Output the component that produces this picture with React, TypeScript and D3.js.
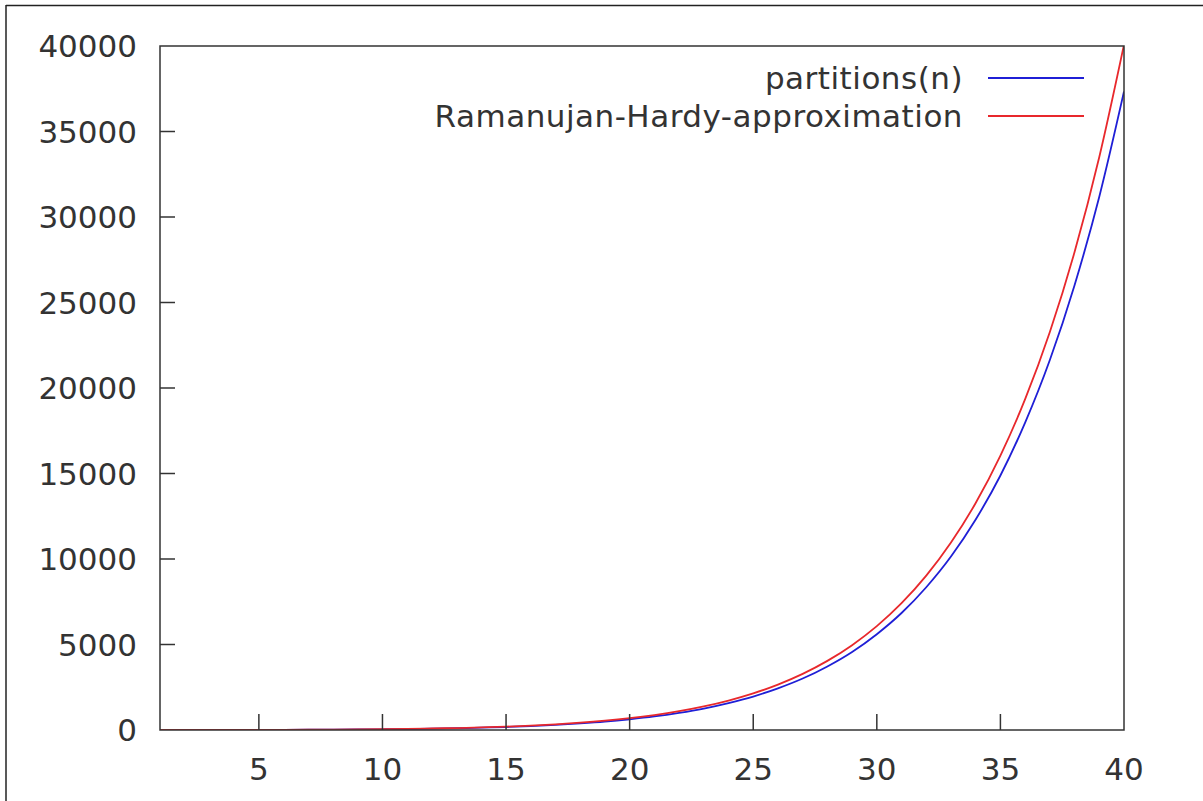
import React from "react";
import * as d3 from "d3";

const nValues: number[] = Array.from({ length: 40 }, (_, i) => i + 1);
const partitions: number[] = [
  1, 2, 3, 5, 7, 11, 15, 22, 30, 42, 56, 77, 101, 135, 176, 231, 297, 385, 490, 627,
  792, 1002, 1255, 1575, 1958, 2436, 3010, 3718, 4565, 5604, 6842, 8349, 10143, 12310,
  14883, 17977, 21637, 26015, 31185, 37338,
];
const approximation: number[] = [
  1.88, 2.72, 4.09, 6.1, 8.95, 12.9, 18.3, 25.5, 35.2, 48.1, 65.0, 86.9, 115, 152, 198,
  258, 333, 427, 545, 692, 875, 1101, 1380, 1723, 2143, 2656, 3282, 4042, 4962, 6074,
  7415, 9027, 10961, 13275, 16046, 19349, 23278, 27949, 33510, 40080,
];
const xTicks: number[] = [5, 10, 15, 20, 25, 30, 35, 40];
const yTicks: number[] = [0, 5000, 10000, 15000, 20000, 25000, 30000, 35000, 40000];
const seriesNames: string[] = ["partitions(n)", "Ramanujan-Hardy-approximation"];
const seriesColors: string[] = ["#1f1fd6", "#e8282c"];

const W = 1203;
const H = 801;
const left = 160;
const right = 1124;
const top = 46;
const bottom = 730;
const font = "'DejaVu Sans', sans-serif";
const fs = 31;

export default function App() {
  const x = d3.scaleLinear().domain([1, 40]).range([left, right]);
  const y = d3.scaleLinear().domain([0, 40000]).range([bottom, top]);
  const line = d3
    .line<number>()
    .x((_, i) => x(nValues[i]))
    .y((d) => y(d))
    .curve(d3.curveMonotoneX);
  const series = [partitions, approximation];

  return (
    <svg
      width={W}
      height={H}
      style={{ position: "absolute", left: 0, top: 0, background: "#fff" }}
    >
      <rect x={0} y={0} width={W} height={H} fill="#fff" />
      <line x1={6} y1={5.5} x2={W} y2={5.5} stroke="#222" strokeWidth={1.5} />
      <line x1={6} y1={5} x2={6} y2={H} stroke="#222" strokeWidth={1.5} />
      <defs>
        <clipPath id="plot">
          <rect x={left} y={top} width={right - left} height={bottom - top} />
        </clipPath>
      </defs>
      {series.map((s, k) => (
        <path
          key={k}
          d={line(s) || ""}
          fill="none"
          stroke={seriesColors[k]}
          strokeWidth={1.8}
          clipPath="url(#plot)"
        />
      ))}
      <rect
        x={left}
        y={top}
        width={right - left}
        height={bottom - top}
        fill="none"
        stroke="#333"
        strokeWidth={1.5}
      />
      {xTicks.map((t) => (
        <g key={"x" + t}>
          {t < 40 && (
            <line x1={x(t)} x2={x(t)} y1={bottom} y2={bottom - 16} stroke="#333" strokeWidth={1.5} />
          )}
          <text
            x={x(t)}
            y={780}
            textAnchor="middle"
            fontFamily={font}
            fontSize={fs}
            fill="#333"
          >
            {t}
          </text>
        </g>
      ))}
      {yTicks.map((t) => (
        <g key={"y" + t}>
          {t > 0 && t < 40000 && (
            <line x1={left} x2={left + 15} y1={y(t)} y2={y(t)} stroke="#333" strokeWidth={1.5} />
          )}
          <text
            x={137}
            y={y(t) + 11}
            textAnchor="end"
            fontFamily={font}
            fontSize={fs}
            fill="#333"
          >
            {t}
          </text>
        </g>
      ))}
      {seriesNames.map((name, k) => (
        <g key={name}>
          <text
            x={963}
            y={89 + k * 38}
            textAnchor="end"
            fontFamily={font}
            fontSize={fs}
            letterSpacing={0.5}
            fill="#333"
          >
            {name}
          </text>
          <line
            x1={988}
            x2={1084}
            y1={78 + k * 38}
            y2={78 + k * 38}
            stroke={seriesColors[k]}
            strokeWidth={1.8}
          />
        </g>
      ))}
    </svg>
  );
}
